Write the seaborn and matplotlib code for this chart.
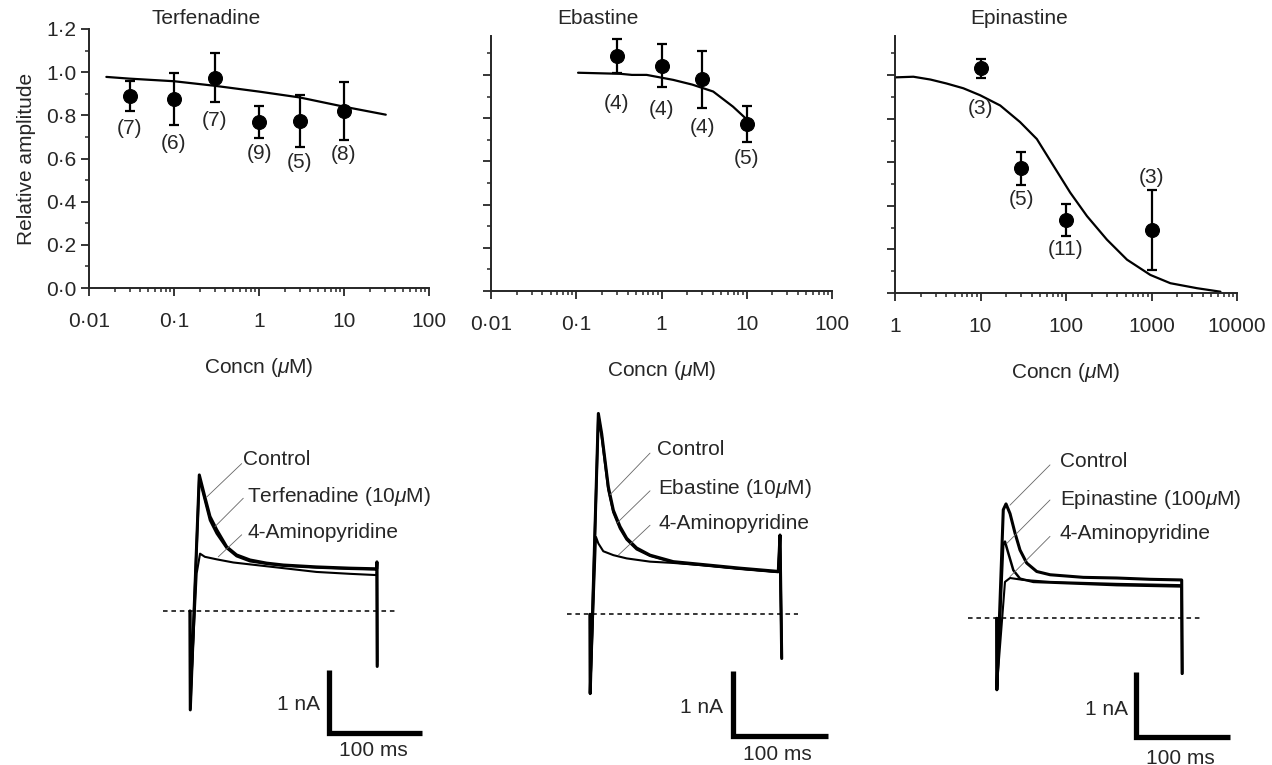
import matplotlib
matplotlib.use('Agg')
import matplotlib.pyplot as plt
import seaborn as sns
from matplotlib.ticker import FixedLocator, LogLocator, MultipleLocator, NullFormatter

# --- concentration-response data (relative amplitude) ---
terf_conc = [0.03, 0.1, 0.3, 1, 3, 10]
terf_amp = [0.89, 0.875, 0.975, 0.77, 0.775, 0.82]
terf_err = [0.07, 0.12, 0.115, 0.075, 0.12, 0.135]
terf_n = ['(7)', '(6)', '(7)', '(9)', '(5)', '(8)']
terf_fit_x = [0.016, 0.03, 0.1, 0.3, 1, 3, 10, 31]
terf_fit_y = [0.978, 0.97, 0.958, 0.937, 0.91, 0.883, 0.84, 0.803]

eba_conc = [0.3, 1, 3, 10]
eba_amp = [1.088, 1.042, 0.98, 0.773]
eba_err = [0.08, 0.10, 0.132, 0.083]
eba_n = ['(4)', '(4)', '(4)', '(5)']
eba_fit_x = [0.105, 0.33, 0.45, 0.67, 1.37, 2.3, 4.04, 6.9, 9.95]
eba_fit_y = [1.01, 1.005, 1.0, 1.0, 0.977, 0.955, 0.923, 0.853, 0.795]

epi_conc = [10, 30, 100, 1000]
epi_amp = [1.031, 0.572, 0.337, 0.288]
epi_err = [0.045, 0.074, 0.073, 0.184]
epi_n = ['(3)', '(5)', '(11)', '(3)']
epi_fit_x = [1, 1.64, 2.6, 4.0, 6.3, 9.9, 17, 29, 45.6, 71.4, 112, 176, 301, 517,
             969, 1660, 3410, 6400]
epi_fit_y = [0.99, 0.993, 0.98, 0.962, 0.94, 0.908, 0.861, 0.785, 0.707, 0.584,
             0.461, 0.353, 0.245, 0.153, 0.083, 0.045, 0.022, 0.006]

# y position (relative amplitude) of the n labels
terf_n_y = [0.74, 0.67, 0.775, 0.625, 0.58, 0.62]
eba_n_y = [0.869, 0.841, 0.758, 0.614]
epi_n_y = [0.846, 0.43, 0.199, 0.53]

# --- current traces: time (ms), current (nA) ---
terf_ctrl_t = [0, 0.3, 10, 16, 21.5, 28.7, 39.4, 50.1, 64.5, 82.4, 100.4, 136, 172, 200.7, 201, 201.3]
terf_ctrl_i = [0, -1.57, 2.16, 1.81, 1.50, 1.29, 1.02, 0.89, 0.81, 0.76, 0.73, 0.70, 0.68, 0.67, 0.78, -0.88]
terf_drug_t = [0, 0.3, 10, 16, 21.5, 28.7, 39.4, 50.1, 64.5, 82.4, 100.4, 136, 172, 200.7, 201, 201.3]
terf_drug_i = [0, -1.55, 2.11, 1.76, 1.44, 1.23, 1.0, 0.87, 0.79, 0.75, 0.72, 0.69, 0.67, 0.66, 0.76, -0.86]
terf_4ap_t = [0, 0.4, 7.2, 10.8, 16, 28.7, 46.6, 64.5, 100.4, 136, 172, 200.7, 201, 201.3]
terf_4ap_i = [0, -1.41, 0.60, 0.91, 0.86, 0.82, 0.77, 0.74, 0.68, 0.62, 0.59, 0.57, 0.62, -0.80]

eba_ctrl_t = [0, 0.2, 8.8, 12.3, 15.8, 19.3, 24.6, 31.6, 38.6, 49.1, 63.2, 87.7, 122.8, 157.9, 198.2, 200, 201.8]
eba_ctrl_i = [0, -1.22, 3.09, 2.78, 2.37, 1.96, 1.60, 1.35, 1.17, 1.02, 0.91, 0.81, 0.76, 0.71, 0.66, 1.22, -0.68]
eba_drug_t = [0, 0.2, 8.8, 12.3, 15.8, 19.3, 24.6, 31.6, 38.6, 49.1, 63.2, 87.7, 122.8, 157.9, 198.2, 200, 201.8]
eba_drug_i = [0, -1.2, 3.05, 2.74, 2.33, 1.92, 1.57, 1.32, 1.15, 1.0, 0.9, 0.8, 0.75, 0.70, 0.65, 1.2, -0.66]
eba_4ap_t = [0, 0.2, 6.3, 8.8, 14, 24.6, 38.6, 63.2, 87.7, 122.8, 157.9, 198.2, 200, 201.8]
eba_4ap_i = [0, -1.22, 1.19, 1.09, 0.97, 0.91, 0.86, 0.81, 0.79, 0.75, 0.70, 0.65, 1.18, -0.66]

epi_ctrl_t = [0, 0.2, 7.0, 9.9, 14.2, 19.5, 24.8, 31.9, 42.6, 56.8, 92.2, 127.7, 163, 196.8, 197.3]
epi_ctrl_i = [0, -1.10, 1.67, 1.76, 1.61, 1.31, 1.05, 0.85, 0.72, 0.67, 0.63, 0.62, 0.60, 0.59, -0.85]
epi_drug_t = [0, 0.2, 7.0, 8.8, 12.4, 17.7, 24.8, 39, 74.5, 127.7, 196.8, 197.3]
epi_drug_i = [0, -1.10, 1.15, 1.18, 1.00, 0.74, 0.61, 0.56, 0.54, 0.51, 0.49, -0.85]
epi_4ap_t = [0, 0.2, 8.8, 14.2, 28.4, 56.8, 127.7, 196.8, 197.3]
epi_4ap_i = [0, -1.05, 0.56, 0.62, 0.59, 0.56, 0.53, 0.51, -0.83]

W, H = 1272, 765
FS = 15

sns.set_style('ticks')
plt.rcParams['font.family'] = ['Liberation Sans', 'DejaVu Sans']
plt.rcParams['mathtext.fontset'] = 'custom'
plt.rcParams['mathtext.it'] = 'Liberation Sans:italic'
plt.rcParams['mathtext.rm'] = 'Liberation Sans'
plt.rcParams['axes.linewidth'] = 1.4

fig = plt.figure(figsize=(W / 100, H / 100), dpi=100)


def px_rect(left, top, right, bottom):
    return [left / W, 1 - bottom / H, (right - left) / W, (bottom - top) / H]


def dose_panel(rect, title, title_px, conc, amp, err, counts, count_y, fit_x, fit_y,
               xlim, xticks, xticklabels, ymax, ylabels):
    ax = fig.add_axes(px_rect(*rect))
    ax.set_xscale('log')
    sns.lineplot(x=fit_x, y=fit_y, ax=ax, color='black', lw=1.6, sort=False, estimator=None)
    ax.errorbar(conc, amp, yerr=err, fmt='none', ecolor='black', elinewidth=1.6,
                capsize=3.5, capthick=1.6, zorder=3)
    sns.scatterplot(x=conc, y=amp, ax=ax, color='black', s=100, edgecolor='black', zorder=4)
    for x, y, n in zip(conc, count_y, counts):
        ax.text(x, y, n, ha='center', va='center', fontsize=FS)
    ax.set_xlim(*xlim)
    ax.set_ylim(0, ymax)
    ax.xaxis.set_major_locator(FixedLocator(xticks))
    ax.set_xticklabels(xticklabels)
    ax.xaxis.set_minor_locator(LogLocator(base=10, subs=range(2, 10)))
    ax.xaxis.set_minor_formatter(NullFormatter())
    ax.yaxis.set_major_locator(MultipleLocator(0.2))
    ax.yaxis.set_minor_locator(MultipleLocator(0.1))
    if ylabels:
        ax.set_yticks([0, 0.2, 0.4, 0.6, 0.8, 1.0, 1.2])
        ax.set_yticklabels(['0·0', '0·2', '0·4', '0·6', '0·8', '1·0', '1·2'])
        ax.set_ylabel('Relative amplitude', fontsize=FS, labelpad=7)
    else:
        ax.set_yticks([0, 0.2, 0.4, 0.6, 0.8, 1.0])
        ax.set_yticklabels([])
    ax.tick_params(axis='both', which='major', length=6, width=1.3, labelsize=FS)
    ax.tick_params(axis='x', which='major', pad=11)
    ax.tick_params(axis='y', which='major', pad=3)
    ax.tick_params(axis='both', which='minor', length=3, width=1.1)
    ax.set_xlabel('Concn ($\\mu$M)', fontsize=FS, labelpad=18)
    sns.despine(ax=ax)
    fig.text(title_px[0] / W, 1 - title_px[1] / H, title, fontsize=FS, va='center', ha='left')
    return ax


dose_panel((89, 29, 429, 288), 'Terfenadine', (152, 18), terf_conc, terf_amp, terf_err,
           terf_n, terf_n_y, terf_fit_x, terf_fit_y, (0.01, 100),
           [0.01, 0.1, 1, 10, 100], ['0·01', '0·1', '1', '10', '100'], 1.2, True)
dose_panel((491, 36, 832, 291), 'Ebastine', (557, 18), eba_conc, eba_amp, eba_err,
           eba_n, eba_n_y, eba_fit_x, eba_fit_y, (0.01, 100),
           [0.01, 0.1, 1, 10, 100], ['0·01', '0·1', '1', '10', '100'], 1.18, False)
dose_panel((895, 36, 1237, 293), 'Epinastine', (970, 18), epi_conc, epi_amp, epi_err,
           epi_n, epi_n_y, epi_fit_x, epi_fit_y, (1, 10000),
           [1, 10, 100, 1000, 10000], ['1', '10', '100', '1000', '10000'], 1.18, False)


def trace_panel(rect, origin, px_ms, px_na, traces, labels, leaders, base_span,
                bar_corner, na_pos, ms_pos):
    left, top, right, bottom = rect
    ax = fig.add_axes(px_rect(*rect))
    for (t, i), lw in zip(traces, [2.2, 1.8, 1.5]):
        sns.lineplot(x=t, y=i, ax=ax, color='black', lw=lw, sort=False, estimator=None)
    ax.hlines(0, base_span[0], base_span[1], colors='black', lw=1.1, linestyles=(0, (3, 2.5)))
    for (x1, y1, x2, y2) in leaders:
        ax.plot([x1, x2], [y1, y2], color='0.4', lw=0.6)
    for (x, y), s in zip(labels[0], labels[1]):
        ax.text(x, y, s, fontsize=FS, ha='left', va='center')
    ct, ci = bar_corner
    ax.plot([ct, ct, ct + 100], [ci + 1, ci, ci], color='black', lw=3.8,
            solid_joinstyle='miter', solid_capstyle='butt')
    ax.text(na_pos[0], na_pos[1], '1 nA', fontsize=FS, ha='right', va='center')
    ax.text(ms_pos[0], ms_pos[1], '100 ms', fontsize=FS, ha='center', va='center')
    x0, y0 = origin
    ax.set_xlim((left - x0) / px_ms, (right - x0) / px_ms)
    ax.set_ylim((y0 - bottom) / px_na, (y0 - top) / px_na)
    ax.axis('off')
    return ax


trace_panel((140, 395, 450, 765), (190, 611), 0.93, 63,
            [(terf_ctrl_t, terf_ctrl_i), (terf_drug_t, terf_drug_i), (terf_4ap_t, terf_4ap_i)],
            ([(57, 2.40), (61.3, 1.81), (61.3, 1.25)],
             ['Control', 'Terfenadine (10$\\mu$M)', '4-Aminopyridine']),
            [(55.6, 2.34, 18, 1.81), (57.3, 1.79, 26.9, 1.34), (55.6, 1.21, 30.4, 0.86)],
            (-29, 220), (149.5, -1.94), (139.8, -1.49), (196.8, -2.21))

trace_panel((545, 385, 860, 765), (590, 614.3), 0.95, 65,
            [(eba_ctrl_t, eba_ctrl_i), (eba_drug_t, eba_drug_i), (eba_4ap_t, eba_4ap_i)],
            ([(70.2, 2.53), (71.6, 1.94), (71.6, 1.40)],
             ['Control', 'Ebastine (10$\\mu$M)', '4-Aminopyridine']),
            [(63.2, 2.48, 21.1, 1.84), (63.2, 1.90, 28.1, 1.40), (63.2, 1.37, 29.8, 0.91)],
            (-24, 219), (150.5, -1.87), (140, -1.44), (196.8, -2.16))

trace_panel((955, 395, 1272, 765), (996.7, 618.3), 0.94, 65,
            [(epi_ctrl_t, epi_ctrl_i), (epi_drug_t, epi_drug_i), (epi_4ap_t, epi_4ap_i)],
            ([(67.3, 2.41), (67.3, 1.83), (67.3, 1.31)],
             ['Control', 'Epinastine (100$\\mu$M)', '4-Aminopyridine']),
            [(56.7, 2.36, 14.1, 1.74), (56.7, 1.82, 10.6, 1.15), (56.7, 1.26, 14.1, 0.64)],
            (-30.5, 218), (147.9, -1.82), (139.7, -1.41), (195, -2.15))

fig.savefig('out.png', dpi=100)
